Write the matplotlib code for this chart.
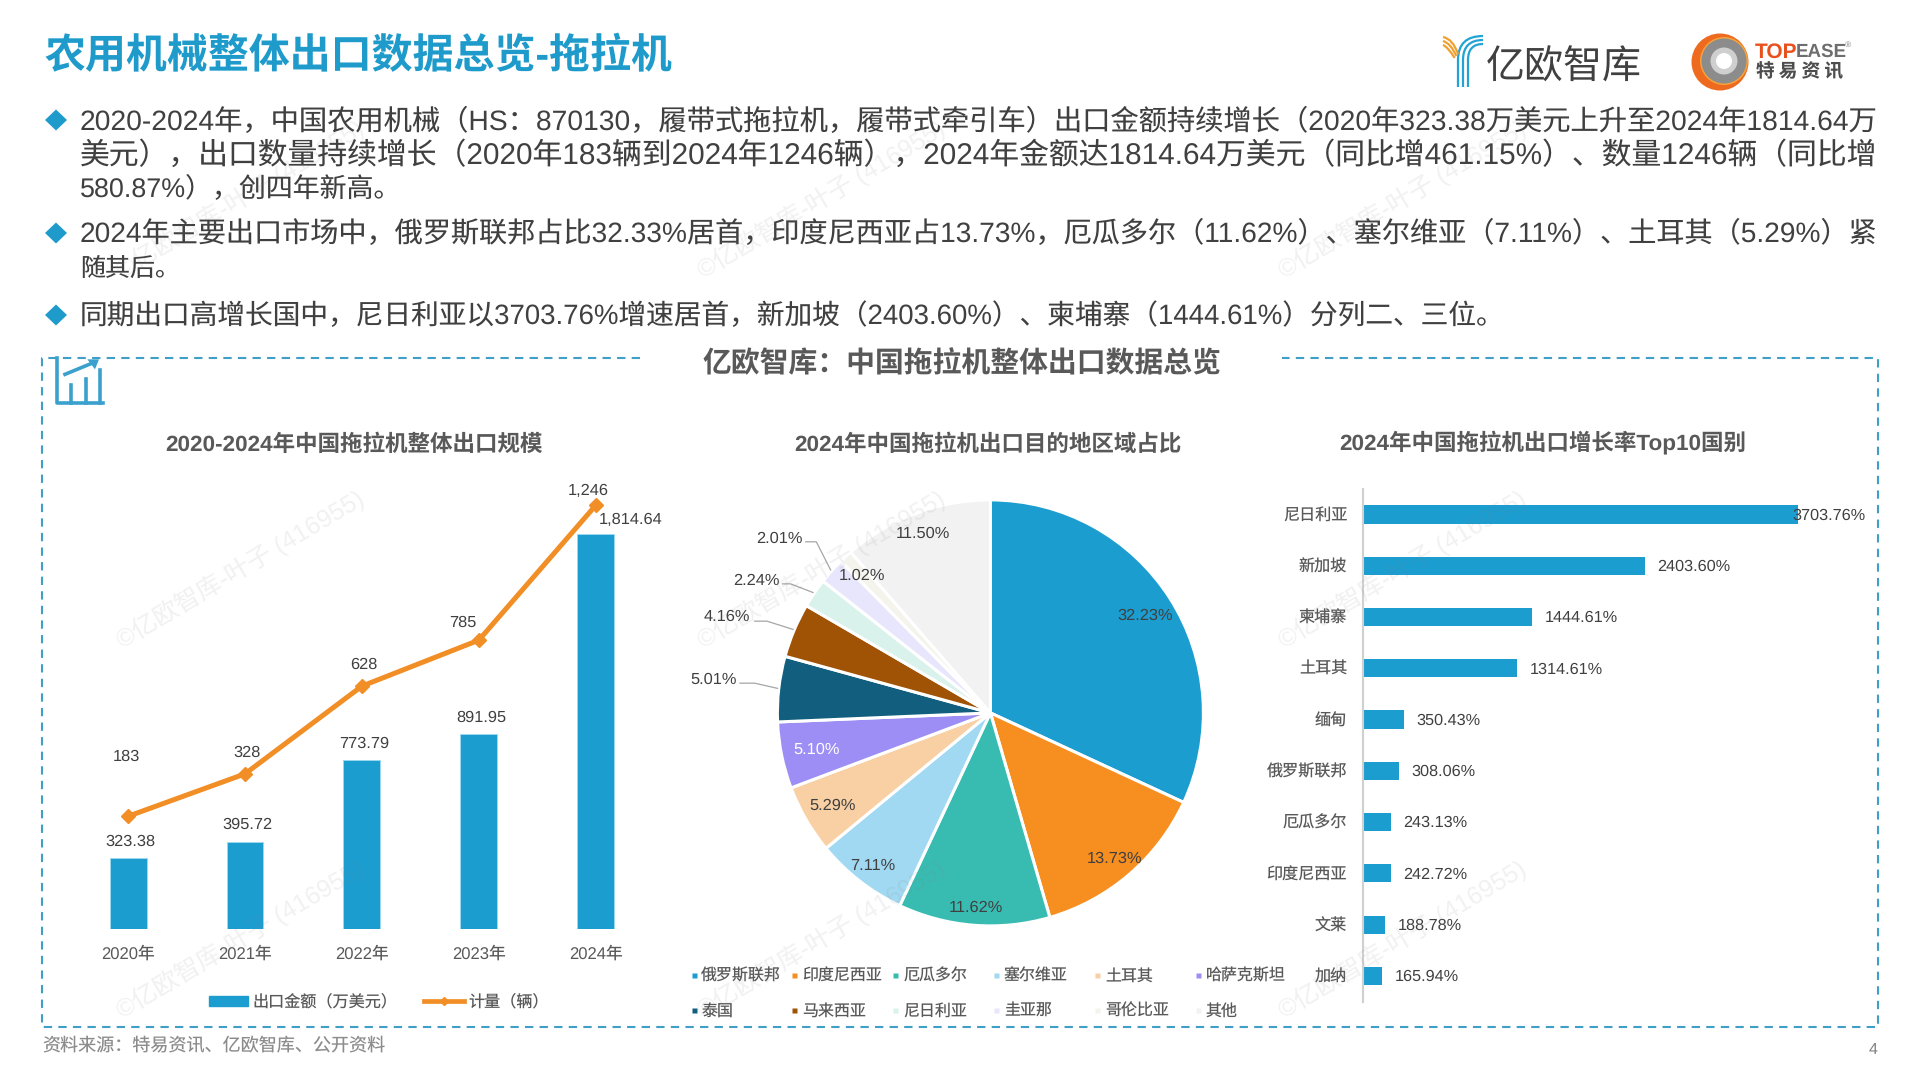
import matplotlib
matplotlib.use("Agg")
import matplotlib.pyplot as plt
from matplotlib.lines import Line2D
from matplotlib.patches import Patch, Polygon, Ellipse, PathPatch
from matplotlib.path import Path
from matplotlib.transforms import Affine2D

W, H = 1920, 1080
SANS = ['Liberation Sans', 'Noto Sans CJK SC', 'DejaVu Sans']
plt.rcParams['font.family'] = SANS
plt.rcParams['text.hinting'] = 'no_hinting'
BLUE, ORANGE = '#1B9DD0', '#F28E26'
GRAY, DARK = '#595959', '#404040'

# ---------- data ----------
years = ['2020年', '2021年', '2022年', '2023年', '2024年']
amount = [323.38, 395.72, 773.79, 891.95, 1814.64]
units = [183, 328, 628, 785, 1246]
amount_labels = ['323.38', '395.72', '773.79', '891.95', '1,814.64']
unit_labels = ['183', '328', '628', '785', '1,246']

regions = ['俄罗斯联邦', '印度尼西亚', '厄瓜多尔', '塞尔维亚', '土耳其', '哈萨克斯坦',
           '泰国', '马来西亚', '尼日利亚', '圭亚那', '哥伦比亚', '其他']
shares = [32.23, 13.73, 11.62, 7.11, 5.29, 5.10, 5.01, 4.16, 2.24, 2.01, 1.02, 11.50]
pie_colors = ['#1B9DD0', '#F68E20', '#38BCB2', '#A1D9F2', '#F9D0A4', '#9D8EF5',
              '#115E7E', '#A05205', '#D9F3EC', '#E8E6FC', '#F5F4EC', '#F2F2F2']

top_countries = ['尼日利亚', '新加坡', '柬埔寨', '土耳其', '缅甸',
                 '俄罗斯联邦', '厄瓜多尔', '印度尼西亚', '文莱', '加纳']
growth = [3703.76, 2403.60, 1444.61, 1314.61, 350.43, 308.06, 243.13, 242.72, 188.78, 165.94]

body_lines = [
    '2020-2024年，中国农用机械（HS：870130，履带式拖拉机，履带式牵引车）出口金额持续增长（2020年323.38万美元上升至2024年1814.64万',
    '美元），出口数量持续增长（2020年183辆到2024年1246辆），2024年金额达1814.64万美元（同比增461.15%）、数量1246辆（同比增',
    '580.87%），创四年新高。',
    '2024年主要出口市场中，俄罗斯联邦占比32.33%居首，印度尼西亚占13.73%，厄瓜多尔（11.62%）、塞尔维亚（7.11%）、土耳其（5.29%）紧',
    '随其后。',
    '同期出口高增长国中，尼日利亚以3703.76%增速居首，新加坡（2403.60%）、柬埔寨（1444.61%）分列二、三位。',
]

# ---------- layout (pixels, origin top-left) ----------
fig = plt.figure(figsize=(W / 100, H / 100), dpi=100, facecolor='white')
TR = Affine2D().scale(1 / W, -1 / H).translate(0, 1) + fig.transFigure
renderer = fig.canvas.get_renderer()


def T(x, y, s, size=11.8, color=GRAY, ha='left', va='center', weight='normal', family=None, **kw):
    return fig.text(x / W, 1 - (y + 2) / H, s, fontsize=size, color=color, ha=ha, va=va,
                    fontweight=weight, family=family or SANS, **kw)


def fit(x0, x1, y, s, size, **kw):
    t = T(x0, y, s, size=size, **kw)
    for _ in range(3):
        ext = t.get_window_extent(renderer)
        t.set_fontsize(t.get_fontsize() * (x1 - x0) / ext.width)
    return t


def L(xs, ys, color, lw, **kw):
    fig.add_artist(Line2D(xs, ys, transform=TR, color=color, lw=lw, **kw))


def axes_px(l, t, r, b):
    return fig.add_axes([l / W, 1 - b / H, (r - l) / W, (b - t) / H])


# header
fit(44, 672, 55, '农用机械整体出口数据总览-拖拉机', 29, color='#1F9BCB', weight='bold')

# logo 1
for dx, dy in zip((0, 5, 10), (0, 4, 8)):
    x, y = 1458 + dx, 36 + dy
    fig.add_artist(PathPatch(Path([(x, 87), (x, 60), (x, y), (1483, y)],
                                  [Path.MOVETO, Path.LINETO, Path.CURVE3, Path.CURVE3]),
                             transform=TR, fc='none', ec='#22A3D4', lw=1.6))
    fig.add_artist(PathPatch(Path([(1443, y + 1), (1453 - dx / 2, y + 3), (1458 - dx / 3, 54 + dy / 2)],
                                  [Path.MOVETO, Path.CURVE3, Path.CURVE3]),
                             transform=TR, fc='none', ec='#F0A030', lw=1.6))
fit(1486, 1642, 66, '亿欧智库', 27, color=DARK, family=['Noto Sans CJK SC'])

# logo 2
for cx, cy, r, c in [(1720, 62, 28.5, '#EE6A1F'), (1724, 61, 24, '#F5A33A'), (1724, 61, 22.5, '#8C8C8C'),
                     (1724, 61, 13.5, '#CFCFCF'), (1724, 61, 8, '#FFFFFF')]:
    fig.add_artist(Ellipse((cx, cy), 2 * r, 2 * r, transform=TR, fc=c, ec='none'))
T(1755, 50, 'TOP', size=15, color='#E8511E', weight='bold')
T(1796, 50, 'EASE', size=13.5, color='#6E6E6E', weight='bold')
T(1848, 43, '®', size=6, color='#808080', ha='center')
fit(1756, 1843, 70, '特 易 资 讯', 11.5, color='#4D4D4D', weight='bold', family=['Noto Sans CJK SC'])

# body
line_x = [(80, 1878), (80, 1878), (80, 401.6), (80, 1878), (80, 180), (80, 1506)]
line_y = [120, 153.5, 187.5, 232.5, 267.5, 314]
for s, (x0, x1), y in zip(body_lines, line_x, line_y):
    fit(x0, x1, y, s, 20.5, color=DARK)
for y in (120, 233, 315):
    fig.add_artist(Polygon([(45, y), (56, y - 10.5), (67, y), (56, y + 10.5)], closed=True, transform=TR,
                           fc='#1F9BCB', ec='none'))

# frame
FRAME = '#3F9FC6'
DASH = (0, (4, 3))
L([640, 41.6, 41.6, 1878.3, 1878.3, 1282], [357.7, 357.7, 1027, 1027, 357.7, 357.7], FRAME, 1.5, ls=DASH)
fit(702, 1221, 362, '亿欧智库：中国拖拉机整体出口数据总览', 20.5, color=GRAY, weight='bold')

# icon
ICON = '#3AA0CE'
ix = lambda v: 30 + v / 3
iy = lambda v: 340 + v / 3
L([ix(80), ix(80), ix(218)], [iy(55), iy(188), iy(188)], ICON, 2.6)
for bx, by in zip((124, 167, 210), (135, 118, 90)):
    L([ix(bx), ix(bx)], [iy(by), iy(188)], ICON, 2.6)
L([ix(105), ix(190)], [iy(103), iy(68)], ICON, 2.6)
fig.add_artist(Polygon([(ix(207), iy(58)), (ix(172), iy(58)), (ix(195), iy(88))], closed=True, transform=TR, fc=ICON, ec='none'))

# chart titles
T(354, 443, '2020-2024年中国拖拉机整体出口规模', size=16.2, weight='bold', ha='center')
T(988, 443, '2024年中国拖拉机出口目的地区域占比', size=16.2, weight='bold', ha='center')
T(1543, 440.5, '2024年中国拖拉机出口增长率Top10国别', size=16.2, weight='bold', ha='center')

# ---------- combo chart ----------
ax = axes_px(69.65, 480, 654.15, 928.6)
x = list(range(len(years)))
ax.bar(x, amount, width=0.3165, color=BLUE, edgecolor='#9FDAF0', linewidth=0.6, zorder=2)
ax.set_xlim(-0.5, 4.5)
ax.set_ylim(0, 2060.6)
ax.set_xticks(x, years, fontsize=12, color=GRAY)
ax.tick_params(axis='x', length=0, pad=13)
ax.set_yticks([])
for s in ax.spines.values():
    s.set_visible(False)
ax.patch.set_alpha(0)
ax2 = ax.twinx()
line, = ax2.plot(x, units, color=ORANGE, lw=3.6, marker='D', ms=7, zorder=3)
ax2.set_ylim(-201, 1332.6)
ax2.set_yticks([])
for s in ax2.spines.values():
    s.set_visible(False)
ax2.patch.set_alpha(0)
amt_off = [(2.3, 16), (2.3, 18), (2.7, 16.5), (2.7, 17), (35, 14)]
unit_off = [(-1.3, 59.5), (2.3, 21), (2.3, 21), (-15.6, 17), (-7, 15)]
for i in x:
    ax.annotate(amount_labels[i], (x[i], amount[i]), xytext=amt_off[i], textcoords='offset pixels',
                ha='center', va='center', fontsize=11.8, color=DARK, annotation_clip=False)
    ax2.annotate(unit_labels[i], (x[i], units[i]), xytext=unit_off[i], textcoords='offset pixels',
                 ha='center', va='center', fontsize=11.8, color=DARK, annotation_clip=False)
fig.legend(handles=[Patch(color=BLUE, label='出口金额（万美元）'),
                    Line2D([], [], color=ORANGE, lw=3.4, marker='D', ms=4.5, label='计量（辆）')],
           loc='center', bbox_to_anchor=(378.5 / W, 1 - 1002 / H), ncol=2, frameon=False,
           fontsize=11.6, labelcolor=GRAY, handlelength=2.45, handleheight=0.55, handletextpad=0.25,
           columnspacing=1.7, borderpad=0, borderaxespad=0)

# ---------- pie ----------
cx, cy, R = 990.4, 712.9, 213
pax = axes_px(cx - R, cy - R, cx + R, cy + R)
pax.pie(shares, colors=pie_colors, startangle=90, counterclock=False, radius=1,
        wedgeprops=dict(edgecolor='white', linewidth=2.2, clip_on=False))
pax.set_xlim(-1, 1)
pax.set_ylim(-1, 1)
pct_pos = [(1144.9, 614.2), (1114.3, 857.5), (975.5, 906.5), (873, 864), (832.7, 804.6), (817, 748.7),
           (713.5, 678), (727.3, 615.5), (756, 579), (779.2, 537), (861.6, 574.3), (922.9, 532.3)]
for i, (v, (px_, py_)) in enumerate(zip(shares, pct_pos)):
    T(px_, py_ - 0.5, f'{v:.2f}%', size=11.8, ha='center', color='white' if i == 5 else DARK)
zx = lambda v: 660 + v / 2.45
zy = lambda v: 400 + v / 2.306
for xs, ys in [((196, 232, 288), (653, 653, 665)), ((232, 262, 326), (510, 510, 529)),
               ((300, 320, 375), (424, 424, 444)), ((357, 383, 418), (327, 327, 392))]:
    L([zx(v) for v in xs], [zy(v) for v in ys], '#A6A6A6', 0.9)
for i, (name, c) in enumerate(zip(regions, pie_colors)):
    col, row = i % 6, i // 6
    mx, my = 693.5 + col * 100.9, 974.6 + row * 35.1
    fig.add_artist(Line2D([mx], [my], transform=TR, marker='s', ms=3.6, color=c, mec='none', ls='none'))
    T(mx + 7.8, my, name, size=11.5)

# ---------- horizontal bars ----------
bax = axes_px(1362.5, 488.9, 1860, 1001.5)
ypos = list(range(len(top_countries)))
bax.barh(ypos, growth, height=0.355, color=BLUE)
bax.set_ylim(9.5, -0.5)
bax.set_xlim(0, 4234)
bax.set_yticks(ypos, top_countries, fontsize=11.6, color=GRAY)
bax.tick_params(axis='y', length=0, pad=11)
bax.set_xticks([])
for k in ('top', 'right', 'bottom'):
    bax.spines[k].set_visible(False)
bax.spines['left'].set_color('#D0D0D0')
bax.spines['left'].set_linewidth(1.5)
bax.patch.set_alpha(0)
for i, v in zip(ypos, growth):
    off = -5 if i == 0 else 12.6
    bax.annotate(f'{v:.2f}%', (v, i), xytext=(off, -1), textcoords='offset pixels', ha='left', va='center',
                 fontsize=11.7, color=DARK, annotation_clip=False)

# footer
T(42.5, 1044, '资料来源：特易资讯、亿欧智库、公开资料', size=13, color='#8C8C8C')
T(1873, 1047.5, '4', size=11.5, color='#808080', ha='center')

# watermarks
for wx in (240, 821, 1402):
    for wy in (199, 569, 939):
        fig.text(wx / W, 1 - wy / H, '©亿欧智库-叶子 (416955)', fontsize=18, color='#808080', alpha=0.11,
                 rotation=30.8, rotation_mode='anchor', ha='center', va='center', family=SANS, zorder=20)

fig.savefig('out.png', dpi=100)
